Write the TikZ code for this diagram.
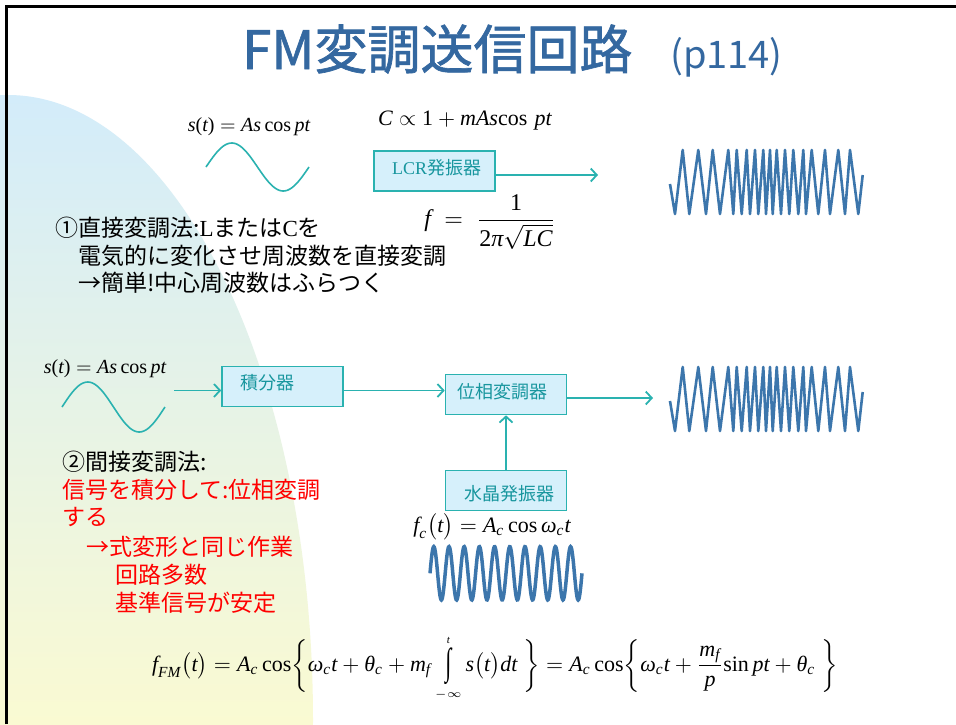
\documentclass[tikz,border=0pt]{standalone}
\usepackage{amsmath}
\usepackage{fontspec}
\usetikzlibrary{arrows.meta}

\newfontfamily\jp{Noto Sans CJK JP}
\newfontfamily\jpt[FakeBold=1.2]{Noto Sans CJK JP}
\newfontfamily\tms{Liberation Serif}

\definecolor{titleblue}{RGB}{52,104,160}
\definecolor{tealline}{RGB}{42,178,176}
\definecolor{tealtext}{RGB}{24,150,158}
\definecolor{boxfill}{RGB}{214,240,251}
\definecolor{waveblue}{RGB}{60,118,172}
\definecolor{bgtop}{RGB}{211,236,250}
\definecolor{bgmid}{RGB}{232,244,234}
\definecolor{bgbot}{RGB}{250,250,210}
\definecolor{notered}{RGB}{255,0,0}

% Times-like variables inside math
\newcommand\vi[1]{\text{\tms\itshape #1}}
\newcommand\vr[1]{\text{\tms #1}}
\newcommand\fsz[1]{\fontsize{#1}{#1}\selectfont}
% tall upright integral sign with limits above and below
\newcommand\tallint{\mathop{\vcenter{\hbox{\scalebox{1}[1.7]{\tms ∫}}}}\limits}

\tikzset{
  fml/.style={inner sep=0pt, text=black},
  jtext/.style={font=\jp\fsz{23}, anchor=base west, inner sep=0pt, text=black},
  redtext/.style={jtext, text=notered},
  blockbox/.style={draw=tealline, fill=boxfill, line width=1.6pt,
    minimum width=121pt, minimum height=40pt, inner sep=0pt},
  boxlabel/.style={font=\jp\fsz{18}, text=tealtext, anchor=west, inner sep=0pt},
  conn/.style={draw=tealline, line width=1.8pt,
    -{Straight Barb[length=6pt,width=13pt]}},
  sinline/.style={draw=tealline, line width=1.6pt},
  fmline/.style={draw=waveblue, line width=2.6pt, line join=round},
  carrier/.style={draw=waveblue, line width=3.5pt},
  fmw/.pic={
    \draw[fmline] plot coordinates {(0,34) (5,64) (12.7,0) (19.3,64) (28.3,0)
      (36,64) (42.7,0) (50,64) (58.3,0) (63.3,64) (66.7,0) (71.7,64) (76.7,0)
      (80,64) (85,0) (88.3,64) (93.3,0) (96,64) (100,0) (102.7,64) (106.7,0)
      (111,64) (115,0) (119.3,64) (123.3,0) (128.3,64) (133.3,0) (136,64)
      (141.7,0) (148.3,64) (155,0) (160,64) (168.3,0) (175,64) (180,0)
      (188.3,64) (192.7,25)};
  }
}

\begin{document}
\begin{tikzpicture}[x=1pt,y=-1pt]
\useasboundingbox (0,0) rectangle (956,724);
\fill[white] (0,0) rectangle (956,724);

% soft gradient panel on the left
\begin{scope}
  \clip (0,0) rectangle (956,724);
  \clip (8,720) ellipse [x radius=305, y radius=625];
  \shade[top color=bgtop, middle color=bgmid, bottom color=bgbot]
    (0,95) rectangle (320,724);
\end{scope}

% slide frame
\draw[line width=3pt] (6.5,724) -- (6.5,6.5) -- (956,6.5);

% title
\node[anchor=base west, inner sep=0pt, font=\jpt\fsz{53}, text=titleblue]
  (title) at (242,69) {FM変調送信回路};
\node[anchor=base west, inner sep=0pt, font=\jp\fsz{38}, text=titleblue]
  (page) at (670,68) {(p114)};

% direct modulation
\node[fml, scale=2.0] (st1) at (249,127)
  {$\vi{s}\vr{(}\vi{t}\vr{)} = \vi{As}\,\vr{cos}\,\vi{pt}$};
\draw[sinline] plot[domain=0:360, samples=60]
  ({206+\x/360*103}, {167-24*sin(\x)});
\node[fml, scale=2.2] (cprop) at (465,121)
  {$\vi{C} \propto \vr{1} + \vi{mAs}\vr{cos}\ \vi{pt}$};
\node[blockbox] (lcr) at (434.5,171) {};
\node[boxlabel] (lcrlabel) at (392,168) {{\tms LCR}発振器};
\node[fml, scale=2.4] (freq) at (490,222)
  {$\vi{f} \;=\; \dfrac{\vr{1}}{\vr{2}\vi{π}\sqrt{\vi{LC}}}$};
\coordinate (lcrout) at (598,175);
\draw[conn] ([yshift=-4pt]lcr.east) -- (lcrout);
\pic at (670,150) {fmw};

\node[jtext] (t1a) at (55,236.5) {①直接変調法:{\tms L}または{\tms C}を};
\node[jtext] (t1b) at (78,264.5) {電気的に変化させ周波数を直接変調};
\node[jtext] (t1c) at (78,291.5) {→簡単!中心周波数はふらつく};

% indirect modulation
\node[fml, scale=2.0] (st2) at (105,369)
  {$\vi{s}\vr{(}\vi{t}\vr{)} = \vi{As}\,\vr{cos}\,\vi{pt}$};
\draw[sinline] plot[domain=0:360, samples=60]
  ({62+\x/360*103}, {407-25*sin(\x)});
\coordinate (sin2end) at (174,390.5);
\node[blockbox] (integ) at (282.5,386.5) {};
\node[boxlabel] (integlabel) at (240,383) {積分器};
\node[blockbox] (phase) at (506,394.5) {};
\node[boxlabel] (phaselabel) at (457,392) {位相変調器};
\node[blockbox] (xtal) at (506,490.5) {};
\node[boxlabel] (xtallabel) at (464,494) {水晶発振器};
\coordinate (phaseout) at (653,398);
\draw[conn] (sin2end) -- (sin2end -| integ.west);
\draw[conn] ([yshift=-4pt]integ.east) -- ([yshift=-4pt]integ.east -| phase.west);
\draw[conn] (phaseout -| phase.east) -- (phaseout);
\draw[conn] (xtal.north) -- (phase.south);
\pic at (670,367) {fmw};

\node[fml, scale=2.2] (fc) at (492,527)
  {$\vi{f}_{\vi{c}}\bigl(\vi{t}\bigr) = \vi{A}_{\vi{c}}\,\vr{cos}\,\vi{ω}_{\vi{c}}\vi{t}$};
\draw[carrier] plot[domain=0:152, samples=320]
  ({430+\x}, {573.3-26.7*sin(23.684*\x)});

\node[jtext] (t2a) at (62,470.5) {②間接変調法:};
\node[redtext] (t2b) at (62,498.5) {信号を積分して:位相変調};
\node[redtext] (t2c) at (62,525.5) {する};
\node[redtext] (t2d) at (86,555.5) {→式変形と同じ作業};
\node[redtext] (t2e) at (115,583.5) {回路多数};
\node[redtext] (t2f) at (115,611.5) {基準信号が安定};

% FM signal expression
\node[fml, scale=2.2] (ffm) at (495,668)
  {$\vi{f}_{\vi{FM}}\bigl(\vi{t}\bigr) = \vi{A}_{\vi{c}}\,\vr{cos}
   \biggl\{\vi{ω}_{\vi{c}}\vi{t} + \vi{θ}_{\vi{c}} + \vi{m}_{\vi{f}}
   \tallint_{\scriptscriptstyle -\infty}^{\scriptscriptstyle \vi{t}}
   \vi{s}\bigl(\vi{t}\bigr)\vi{dt}\;\biggr\}
   = \vi{A}_{\vi{c}}\,\vr{cos}\biggl\{\vi{ω}_{\vi{c}}\vi{t}
   + \dfrac{\vi{m}_{\vi{f}}}{\vi{p}}\vr{sin}\,\vi{pt} + \vi{θ}_{\vi{c}}\;\biggr\}$};
\end{tikzpicture}
\end{document}
